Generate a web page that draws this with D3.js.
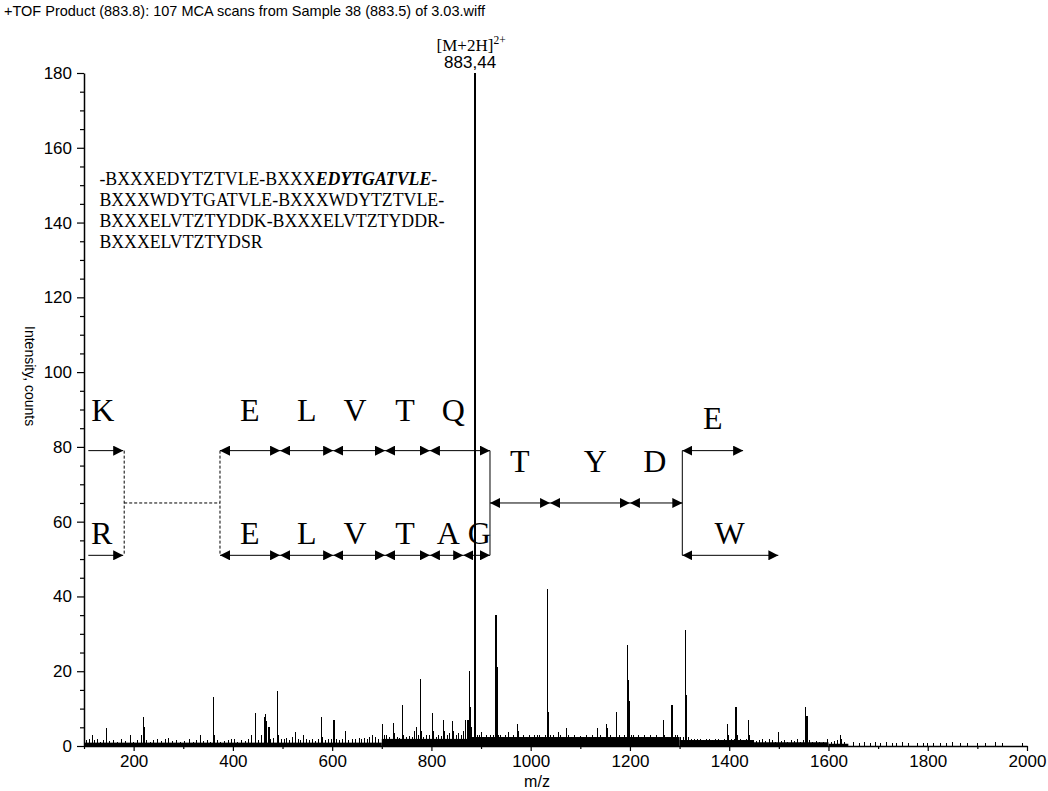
<!DOCTYPE html>
<html><head><meta charset="utf-8">
<script src="https://cdn.jsdelivr.net/npm/d3@7"></script>
<style>body{margin:0;background:#fff}svg{display:block}</style>
</head><body>
<svg id="chart" width="1048" height="791"></svg>
<script>
// ---------- DATA ----------
const titleText = "+TOF Product (883.8): 107 MCA scans from Sample 38 (883.5) of 3.03.wiff";
const xLabelText = "m/z";
const yLabelText = "Intensity, counts";
const xMajorTicks = [200,400,600,800,1000,1200,1400,1600,1800,2000];
const xMinorTicks = [100,300,500,700,900,1100,1300,1500,1700,1900];
const yMajorTicks = [0,20,40,60,80,100,120,140,160,180];
const yMinorTicks = [5,10,15,25,30,35,45,50,55,65,70,75,85,90,95,105,110,115,125,130,135,145,150,155,165,170,175];

// precursor [m/z as drawn, intensity]
const precursorPeak = [888, 180];
const precursorShoulder = [888, 164];
const precursorLabel = ["[M+2H]", "2+", "883,44"];

// prominent fragment peaks [m/z, intensity]
const majorPeaks = [
  [219.5,7.8],[360.6,13],[446,8.9],[463,7.8],[466,8.5],[468,6.7],[473,5],[490,14.7],
  [579,7.8],[603.7,6.9],[702,5.8],[723,6.1],[742,10.9],[770,5],[778,17.8],[802,8.9],
  [825,6.9],[842,6.7],[869,6.9],[874,7],[876.4,20],[879,10.3],[930,35],[932,21],
  [973,6],[1033.5,42],[1035.6,9],[1072.6,4.8],[1135,4.8],[1153,6],[1173,9],
  [1195.5,27],[1196.7,17.7],[1198,12],[1267,6.9],[1284.8,10.9],[1286,8.9],
  [1312,31],[1313.6,13.6],[1396,6],[1413.7,10.3],[1438.5,7],[1499,3.8],[1554,10.3],[1557,8]
];

// small peaks / noise [m/z, intensity]
const minorPeaks = [
  [105,1.5],[112,2],[117,2.9],[122,1.5],[127,2],[133,1.2],[140,1.5],[146,4.9],[152,1.3],[160,1.5],
  [168,1.2],[176,2],[183,1.3],[193,2.9],[200,1.2],[207,1.5],[216,3],[221,5],[226,1.5],[234,1.2],
  [241,1.5],[248,2],[256,1.3],[265,2],[270,2.2],[278,1.3],[286,1.5],[294,1.2],[302,1.4],[313,2],
  [320,1.2],[327,1.5],[334,2.9],[341,1.3],[348,1.5],[355,1.2],[362,3],[368,1.5],[375,1.2],
  [384,1.3],[392,1.5],[398,2],[403,2],[410,1.2],[418,1.5],[425,1.3],[431,2],[438,2.9],[452,1.5],
  [458,3],[476,2],[481,2.2],[492,3],[498,2],[503,2],[509,2.2],[515,1.5],[520,2.5],[526.5,3.8],
  [532,2],[537,1.5],[542,2.9],[548,2],[555,1.5],[560,2],[566,1.3],[572,2],[581,2.5],[587,1.5],
  [593,2],[598,1.8],[608,2],[614,1.5],[620,2],[627,4],[633,1.5],[641,2],[648,2],[655,2.2],
  [660,1.8],[666,2.2],[672,2],[676,2.5],[681.7,2.9],[688,2.3],[694,2],
  [705,3],[710,3],[716,2.5],[726,3.5],[731,2.5],[736,2.2],[744,3],[750,2.5],[756,2.8],[762,2.5],
  [766,4],[773,3],[780,4],[785,2.5],[790,3],[796,3],[804,4],[810,2.5],[815,3],[820,2.8],
  [827,4],[832,3],[837,3.5],[845,4],[850,3],[855,3.5],[860,3],[865,4],[872,5],[881,5],
  [886,5],[889,4],[893,3],[897,3],[901,3.8],[905,2.5],[910,3],[915,2.5],[920,3],[925,3],
  [936,3],[940,3],[945,2.5],[950,3],[955,3.8],[960,2.5],[966,3],[975,4],[980,2.5],[986,3],
  [992,2.5],[998,3],[1003,2.5],[1008,3],[1013,2.9],[1018,3],[1024,2.5],[1029,3],[1040,3],[1045,3],
  [1050,2.5],[1055.6,3.8],[1060,3],[1066,2.5],[1076,3],[1082,2.5],[1088,3],[1094,2.5],[1100,2.8],
  [1106,2.5],[1112,3],[1118,2.5],[1124,3],[1130,2.5],[1140,3],[1146,2.5],[1155,4.8],[1160,3],
  [1166,2.5],[1178,3],[1184,2.5],[1190,3],[1203,3],[1208,2.9],[1213,2.5],[1218,2.9],[1224,2.5],
  [1230,3],[1236,2.5],[1242,3],[1248,2.5],[1254,3],[1260,2.5],[1270,3],[1276,2.5],[1291,2.9],[1296,3],
  [1302,2.5],[1307,2.5],[1318,2.5],[1324,2],[1330,2],[1336,1.8],[1342,2],[1348,1.5],[1354,1.8],
  [1360,2],[1366,1.5],[1372,1.8],[1378,2],[1384,1.5],[1390,1.8],[1398,3],[1404,1.8],[1410,2],
  [1416,3],[1422,1.8],[1428,1.5],[1434,1.8],[1441,3],[1448,1.5],[1455,1.3],[1461,1.5],[1467,2],
  [1474,1.3],[1481,2],[1488,1.5],[1494,1.2],[1505,1.3],[1512,1.5],[1518,1.2],[1525,1.5],[1531,1.3],
  [1537,2],[1544,1.2],[1549,1.5],[1561,1.5],[1568,1.2],[1575,1.3],[1582,1.2],[1590,1.2],[1598,2],
  [1606,1.2],[1612,1.3],[1619,1.5],[1625,2.9],[1627,2],[1633,1.2],
  [1650,1],[1662,0.8],[1672,1],[1684,0.8],[1694,1],[1705,0.8],[1716,1],[1728,0.8],[1738,0.9],
  [1750,1],[1762,0.8],[1780,0.9],[1792,0.8],[1800,0.9],[1812,0.8],[1826,0.9],[1838,0.8],[1850,1],
  [1866,0.8],[1880,0.9],[1900,0.8],[1916,0.9],[1936,1],[1950,0.8],[1990,0.9]
];

// dense baseline band levels [m/z start, m/z end, level]
const baselineBand = [
  [100,380,0.9],[380,700,0.9],[700,880,1.9],[880,1300,2.4],[1300,1450,1.6],[1450,1600,1.0],[1600,1640,0.6]
];

// sequence annotation
const sequenceLines = [
  [["-BXXXEDYTZTVLE-BXXX", false], ["EDYTGATVLE", true], ["-", false]],
  [["BXXXWDYTGATVLE-BXXXWDYTZTVLE-", false]],
  [["BXXXELVTZTYDDK-BXXXELVTZTYDDR-", false]],
  [["BXXXELVTZTYDSR", false]]
];
const sequenceAnchor = [131, 150]; // m/z, intensity of first baseline

// ladder rows (intensity levels)
const rowTop = 79, rowMid = 65, rowBot = 51;
// double-headed ladder segments [from m/z, to m/z, level]
const ladderArrows = [
  [374,495,rowTop],[495,602,rowTop],[602,706.5,rowTop],[706.5,797,rowTop],[797,918,rowTop],[1305.5,1428,rowTop],
  [918,1039,rowMid],[1039,1200,rowMid],[1200,1305.5,rowMid],
  [374,495,rowBot],[495,602,rowBot],[602,706.5,rowBot],[706.5,797,rowBot],[797,864,rowBot],[864,918,rowBot],[1305.5,1499,rowBot]
];
// single-headed arrows
const singleArrows = [[108.7,179,rowTop],[108.7,179,rowBot]];
// solid connectors [m/z, from intensity, to intensity]
const solidConnectors = [[918,rowTop,rowBot],[1305.5,rowTop,rowBot]];
// dashed connector path points
const dashedPath = [[181,rowTop],[181,rowBot]];
const dashedPath2 = [[181,rowMid],[374,rowMid]];
const dashedPath3 = [[374,rowTop],[374,rowBot]];
// residue labels [letter, m/z, intensity(baseline)]
const residueLabels = [
  ["K",138,86.9],["E",434,86.9],["L",549,86.9],["V",646,86.9],["T",747,86.9],["Q",844,86.9],
  ["T",978,73.4],["Y",1130,73.4],["D",1250,73.4],["E",1367,84.7],
  ["R",135.7,54],["E",434,54],["L",549,54],["V",646,54],["T",747,54],["A",834,54],["G",896.5,54],["W",1401,54]
];

// ---------- DRAW ----------
const svg = d3.select("#chart");
const sans = "'Liberation Sans', Arial, sans-serif";
const serif = "'Liberation Serif', 'Times New Roman', serif";

const x = d3.scaleLinear().domain([100, 2000]).range([84, 1027]);
const y = d3.scaleLinear().domain([0, 180]).range([746, 73]);

// title
svg.append("text").attr("x", 4).attr("y", 16).attr("font-family", sans).attr("font-size", 14.5)
  .text(titleText);

// baseline band
svg.append("g").selectAll("rect").data(baselineBand).join("rect")
  .attr("x", d => x(d[0])).attr("width", d => x(d[1]) - x(d[0]))
  .attr("y", d => y(d[2])).attr("height", d => y(0) - y(d[2]))
  .attr("fill", "#000");

// peaks
const peakG = svg.append("g").attr("stroke", "#000").attr("shape-rendering", "crispEdges");
peakG.selectAll("line.minor").data(minorPeaks).join("line").attr("class","minor")
  .attr("x1", d => x(d[0])).attr("x2", d => x(d[0]))
  .attr("y1", y(0)).attr("y2", d => y(d[1])).attr("stroke-width", 1);
peakG.selectAll("line.major").data(majorPeaks).join("line").attr("class","major")
  .attr("x1", d => x(d[0])).attr("x2", d => x(d[0]))
  .attr("y1", y(0)).attr("y2", d => y(d[1])).attr("stroke-width", 1.3);
peakG.append("line").attr("x1", x(precursorPeak[0])).attr("x2", x(precursorPeak[0]))
  .attr("y1", y(0)).attr("y2", y(precursorPeak[1])).attr("stroke-width", 1.2);
peakG.append("line").attr("x1", x(precursorShoulder[0])).attr("x2", x(precursorShoulder[0]))
  .attr("y1", y(0)).attr("y2", y(precursorShoulder[1])).attr("stroke-width", 2.5);

// precursor label
const pl = svg.append("text").attr("x", x(precursorPeak[0]) - 4).attr("y", 51)
  .attr("text-anchor", "middle").attr("font-family", serif).attr("font-size", 17);
pl.append("tspan").text(precursorLabel[0]);
pl.append("tspan").attr("font-size", 11.5).attr("dy", -7).text(precursorLabel[1]);
svg.append("text").attr("x", x(precursorPeak[0]) - 5).attr("y", 68).attr("text-anchor", "middle")
  .attr("font-family", sans).attr("font-size", 17).text(precursorLabel[2]);

// axes
const fmt = d3.format("d");
const yAxisG = svg.append("g").attr("transform", `translate(${x(100)},0)`);
yAxisG.call(d3.axisLeft(y).tickValues(yMajorTicks).tickFormat(fmt).tickSize(7).tickPadding(5).tickSizeOuter(0));
yAxisG.append("g").call(d3.axisLeft(y).tickValues(yMinorTicks).tickSize(4).tickFormat("").tickSizeOuter(0))
  .select(".domain").remove();
const xAxisG = svg.append("g").attr("transform", `translate(0,${y(0)})`);
xAxisG.call(d3.axisBottom(x).tickValues(xMajorTicks).tickFormat(fmt).tickSize(5).tickPadding(4).tickSizeOuter(0));
xAxisG.append("g").call(d3.axisBottom(x).tickValues(xMinorTicks).tickSize(3).tickFormat("").tickSizeOuter(0))
  .select(".domain").remove();
svg.selectAll(".domain").attr("stroke-width", 1.5);
svg.selectAll(".tick line").attr("stroke-width", 1.2);
svg.selectAll(".tick text").attr("font-family", sans).attr("font-size", 17).attr("fill", "#000");

svg.append("text").attr("x", 537).attr("y", 787).attr("text-anchor", "middle")
  .attr("font-family", sans).attr("font-size", 16).text(xLabelText);
svg.append("text").attr("transform", `translate(25,${y(100) + 4}) rotate(90)`)
  .attr("text-anchor", "middle").attr("font-family", sans).attr("font-size", 14).text(yLabelText);

// sequence text
const seq = svg.append("text").attr("font-family", serif).attr("font-size", 17.8);
sequenceLines.forEach((line, i) => {
  line.forEach((part, j) => {
    const t = seq.append("tspan").text(part[0]);
    if (j === 0) t.attr("x", x(sequenceAnchor[0])).attr("y", y(sequenceAnchor[1]) + i * 21);
    if (part[1]) t.attr("font-weight", "bold").attr("font-style", "italic");
  });
});

// arrowheads
const defs = svg.append("defs");
defs.append("marker").attr("id", "headEnd").attr("viewBox", "0 0 10 10").attr("refX", 10).attr("refY", 5)
  .attr("markerWidth", 10).attr("markerHeight", 10).attr("markerUnits", "userSpaceOnUse").attr("orient", "auto")
  .append("path").attr("d", "M0,0L10,5L0,10Z").attr("fill", "#000");
defs.append("marker").attr("id", "headStart").attr("viewBox", "0 0 10 10").attr("refX", 0).attr("refY", 5)
  .attr("markerWidth", 10).attr("markerHeight", 10).attr("markerUnits", "userSpaceOnUse").attr("orient", "auto")
  .append("path").attr("d", "M10,0L0,5L10,10Z").attr("fill", "#000");

const ann = svg.append("g").attr("stroke", "#000").attr("stroke-width", 1).attr("fill", "none");
ann.selectAll("line.dbl").data(ladderArrows).join("line").attr("class", "dbl")
  .attr("x1", d => x(d[0])).attr("x2", d => x(d[1])).attr("y1", d => y(d[2])).attr("y2", d => y(d[2]))
  .attr("marker-start", "url(#headStart)").attr("marker-end", "url(#headEnd)");
ann.selectAll("line.sgl").data(singleArrows).join("line").attr("class", "sgl")
  .attr("x1", d => x(d[0])).attr("x2", d => x(d[1])).attr("y1", d => y(d[2])).attr("y2", d => y(d[2]))
  .attr("marker-end", "url(#headEnd)");
ann.selectAll("line.conn").data(solidConnectors).join("line").attr("class", "conn")
  .attr("x1", d => x(d[0])).attr("x2", d => x(d[0])).attr("y1", d => y(d[1])).attr("y2", d => y(d[2]));
const lineGen = d3.line().x(d => x(d[0])).y(d => y(d[1]));
[dashedPath, dashedPath2, dashedPath3].forEach(p => {
  ann.append("path").attr("d", lineGen(p)).attr("stroke-dasharray", "3,2");
});

svg.append("g").selectAll("text").data(residueLabels).join("text")
  .attr("x", d => x(d[1])).attr("y", d => y(d[2])).attr("text-anchor", "middle")
  .attr("font-family", serif).attr("font-size", 32).text(d => d[0]);
</script>
</body></html>
